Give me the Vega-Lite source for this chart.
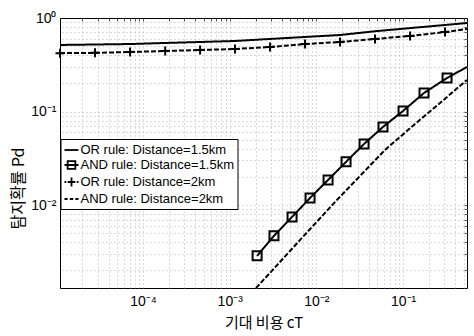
{
  "$schema": "https://vega.github.io/schema/vega-lite/v6.json",
  "width": 407,
  "height": 270,
  "autosize": "none",
  "padding": {"left": 60, "top": 18, "right": 7, "bottom": 48},
  "background": "white",
  "config": {"view": {"stroke": "black", "strokeWidth": 1}, "font": "Liberation Sans"},
  "data": {"values": [
    {"s": "OR rule: Distance=1.5km", "c": 1.1e-5, "p": 0.515},
    {"s": "OR rule: Distance=1.5km", "c": 2.79e-5, "p": 0.521},
    {"s": "OR rule: Distance=1.5km", "c": 7.08e-5, "p": 0.527},
    {"s": "OR rule: Distance=1.5km", "c": 1.8e-4, "p": 0.541},
    {"s": "OR rule: Distance=1.5km", "c": 4.55e-4, "p": 0.554},
    {"s": "OR rule: Distance=1.5km", "c": 1.15e-3, "p": 0.568},
    {"s": "OR rule: Distance=1.5km", "c": 2.92e-3, "p": 0.597},
    {"s": "OR rule: Distance=1.5km", "c": 7.4e-3, "p": 0.627},
    {"s": "OR rule: Distance=1.5km", "c": 0.01876, "p": 0.658},
    {"s": "OR rule: Distance=1.5km", "c": 0.0475, "p": 0.722},
    {"s": "OR rule: Distance=1.5km", "c": 0.1205, "p": 0.78},
    {"s": "OR rule: Distance=1.5km", "c": 0.305, "p": 0.842},
    {"s": "OR rule: Distance=1.5km", "c": 0.547, "p": 0.884},
    {"s": "AND rule: Distance=1.5km", "c": 2.07e-3, "p": 2.87e-3},
    {"s": "AND rule: Distance=1.5km", "c": 3.24e-3, "p": 4.69e-3},
    {"s": "AND rule: Distance=1.5km", "c": 5.24e-3, "p": 7.48e-3},
    {"s": "AND rule: Distance=1.5km", "c": 8.45e-3, "p": 0.01193},
    {"s": "AND rule: Distance=1.5km", "c": 0.01364, "p": 0.01858},
    {"s": "AND rule: Distance=1.5km", "c": 0.022, "p": 0.029},
    {"s": "AND rule: Distance=1.5km", "c": 0.0355, "p": 0.0451},
    {"s": "AND rule: Distance=1.5km", "c": 0.0587, "p": 0.0685},
    {"s": "AND rule: Distance=1.5km", "c": 0.1, "p": 0.1015},
    {"s": "AND rule: Distance=1.5km", "c": 0.1746, "p": 0.158},
    {"s": "AND rule: Distance=1.5km", "c": 0.322, "p": 0.2286},
    {"s": "AND rule: Distance=1.5km", "c": 0.547, "p": 0.2995},
    {"s": "OR rule: Distance=2km", "c": 1.1e-5, "p": 0.421},
    {"s": "OR rule: Distance=2km", "c": 2.79e-5, "p": 0.424},
    {"s": "OR rule: Distance=2km", "c": 7.08e-5, "p": 0.433},
    {"s": "OR rule: Distance=2km", "c": 1.8e-4, "p": 0.444},
    {"s": "OR rule: Distance=2km", "c": 4.55e-4, "p": 0.455},
    {"s": "OR rule: Distance=2km", "c": 1.15e-3, "p": 0.466},
    {"s": "OR rule: Distance=2km", "c": 2.92e-3, "p": 0.49},
    {"s": "OR rule: Distance=2km", "c": 7.4e-3, "p": 0.527},
    {"s": "OR rule: Distance=2km", "c": 0.01876, "p": 0.554},
    {"s": "OR rule: Distance=2km", "c": 0.0475, "p": 0.597},
    {"s": "OR rule: Distance=2km", "c": 0.1205, "p": 0.643},
    {"s": "OR rule: Distance=2km", "c": 0.305, "p": 0.708},
    {"s": "OR rule: Distance=2km", "c": 0.547, "p": 0.762},
    {"s": "AND rule: Distance=2km", "c": 2.01e-3, "p": 1.3e-3},
    {"s": "AND rule: Distance=2km", "c": 2.92e-3, "p": 1.89e-3},
    {"s": "AND rule: Distance=2km", "c": 6.49e-3, "p": 4.25e-3},
    {"s": "AND rule: Distance=2km", "c": 0.0173, "p": 0.01137},
    {"s": "AND rule: Distance=2km", "c": 0.0619, "p": 0.0389},
    {"s": "AND rule: Distance=2km", "c": 0.1374, "p": 0.0737},
    {"s": "AND rule: Distance=2km", "c": 0.267, "p": 0.1236},
    {"s": "AND rule: Distance=2km", "c": 0.547, "p": 0.2177}
  ]},
  "layer": [
    {
      "mark": {"type": "point", "opacity": 0, "filled": false, "color": "black"},
      "encoding": {
        "x": {"field": "c", "type": "quantitative",
          "scale": {"type": "log", "domain": [1.1e-5, 0.547], "nice": false},
          "axis": {"orient": "top", "title": null, "labels": false, "domain": false,
            "values": [2e-5,3e-5,4e-5,5e-5,6e-5,7e-5,8e-5,9e-5,1e-4,2e-4,3e-4,4e-4,5e-4,6e-4,7e-4,8e-4,9e-4,1e-3,2e-3,3e-3,4e-3,5e-3,6e-3,7e-3,8e-3,9e-3,0.01,0.02,0.03,0.04,0.05,0.06,0.07,0.08,0.09,0.1,0.2,0.3,0.4,0.5],
            "grid": true, "gridColor": "#999999", "gridDash": [1, 3], "gridWidth": 1, "gridOpacity": 0.7,
            "ticks": true, "tickSize": -3, "tickColor": "#555"}},
        "y": {"field": "p", "type": "quantitative",
          "scale": {"type": "log", "domain": [1.3e-3, 1], "nice": false},
          "axis": {"orient": "right", "title": null, "labels": false, "domain": false,
            "values": [0.002,0.003,0.004,0.005,0.006,0.007,0.008,0.009,0.01,0.02,0.03,0.04,0.05,0.06,0.07,0.08,0.09,0.1,0.2,0.3,0.4,0.5,0.6,0.7,0.8,0.9],
            "grid": true, "gridColor": "#999999", "gridDash": [1, 3], "gridWidth": 1, "gridOpacity": 0.7,
            "ticks": true, "tickSize": -3, "tickColor": "#555"}},
        "shape": {"field": "s", "type": "nominal",
          "scale": {"domain": ["OR rule: Distance=1.5km", "AND rule: Distance=1.5km", "OR rule: Distance=2km", "AND rule: Distance=2km"],
            "range": ["M-1,0H1", "M-1,0H1M-0.55,-0.55H0.55V0.55H-0.55Z", "M-1,0H-0.75M-0.55,0H0.55M0.75,0H1M0,-0.65V0.65", "M-1,0H-0.55M-0.25,0H0.25M0.55,0H1"]},
          "legend": {"orient": "none", "legendX": 0.5, "legendY": 121, "title": null,
            "fillColor": "white", "strokeColor": "black", "padding": 3,
            "labelFont": "Liberation Sans", "labelFontSize": 13, "labelColor": "black", "labelLimit": 300,
            "symbolSize": 196, "symbolStrokeWidth": 1.8, "symbolOpacity": 1,
            "symbolStrokeColor": "black", "symbolFillColor": "transparent",
            "rowPadding": 0, "labelOffset": 1}}
      }
    },
    {
      "mark": {"type": "line", "color": "black", "strokeWidth": 2, "clip": true},
      "encoding": {
        "x": {"field": "c", "type": "quantitative",
          "scale": {"type": "log", "domain": [1.1e-5, 0.547], "nice": false},
          "axis": {"orient": "bottom", "values": [1e-4, 1e-3, 1e-2, 1e-1],
            "labelExpr": "datum.value < 5e-4 ? '10⁻⁴' : datum.value < 5e-3 ? '10⁻³' : datum.value < 5e-2 ? '10⁻²' : '10⁻¹'",
            "grid": false, "ticks": false, "tickSize": 0, "domain": false,
            "labelFont": "Liberation Sans", "labelFontSize": 14, "labelColor": "black", "labelPadding": 6,
            "title": "기대 비용 cT", "titleFont": "Noto Sans CJK KR", "titleFontSize": 15, "titleFontWeight": "normal",
            "titleColor": "black", "titleY": 34, "titleBaseline": "middle"}},
        "y": {"field": "p", "type": "quantitative",
          "scale": {"type": "log", "domain": [1.3e-3, 1], "nice": false},
          "axis": {"orient": "left", "values": [0.01, 0.1, 1],
            "labelExpr": "datum.value < 0.05 ? '10⁻²' : datum.value < 0.5 ? '10⁻¹' : '10⁰'",
            "grid": false, "ticks": false, "tickSize": 0, "domain": false,
            "labelFont": "Liberation Sans", "labelFontSize": 14, "labelColor": "black", "labelPadding": 4,
            "title": "탐지확률 Pd", "titleFont": "Noto Sans CJK KR", "titleFontSize": 16, "titleFontWeight": "normal",
            "titleColor": "black", "titleX": -42, "titleY": 170, "titleAngle": -90, "titleAlign": "center", "titleBaseline": "middle"}},
        "strokeDash": {"field": "s", "type": "nominal",
          "scale": {"domain": ["OR rule: Distance=1.5km", "AND rule: Distance=1.5km", "OR rule: Distance=2km", "AND rule: Distance=2km"],
            "range": [[1, 0], [1, 0], [5, 2], [5, 2]]},
          "legend": null}
      }
    },
    {
      "transform": [
        {"filter": {"field": "s", "oneOf": ["AND rule: Distance=1.5km", "OR rule: Distance=2km"]}},
        {"filter": {"field": "c", "lt": 0.5}}
      ],
      "mark": {"type": "point", "filled": false, "color": "black", "strokeWidth": 2, "size": 81, "opacity": 1},
      "encoding": {
        "x": {"field": "c", "type": "quantitative", "scale": {"type": "log", "domain": [1.1e-5, 0.547], "nice": false}, "axis": null},
        "y": {"field": "p", "type": "quantitative", "scale": {"type": "log", "domain": [1.3e-3, 1], "nice": false}, "axis": null},
        "shape": {"field": "s", "type": "nominal",
          "scale": {"domain": ["AND rule: Distance=1.5km", "OR rule: Distance=2km"], "range": ["square", "M-1,0H1M0,-1V1"]},
          "legend": null}
      }
    }
  ],
  "resolve": {"scale": {"shape": "independent"}, "legend": {"shape": "independent"}}
}
